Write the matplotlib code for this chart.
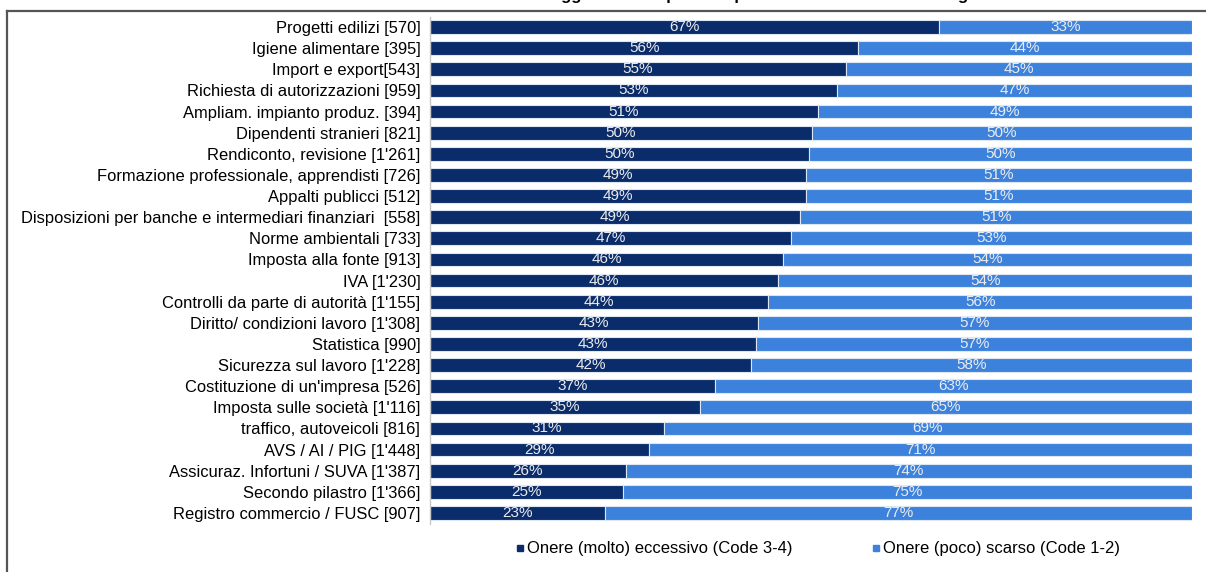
import matplotlib.pyplot as plt
from matplotlib.lines import Line2D

plt.rcParams['font.family'] = ['Liberation Sans', 'DejaVu Sans']

categories = [
    "Progetti edilizi [570]",
    "Igiene alimentare [395]",
    "Import e export[543]",
    "Richiesta di autorizzazioni [959]",
    "Ampliam. impianto produz. [394]",
    "Dipendenti stranieri [821]",
    "Rendiconto, revisione [1'261]",
    "Formazione professionale, apprendisti [726]",
    "Appalti publicci [512]",
    "Disposizioni per banche e intermediari finanziari  [558]",
    "Norme ambientali [733]",
    "Imposta alla fonte [913]",
    "IVA [1'230]",
    "Controlli da parte di autorità [1'155]",
    "Diritto/ condizioni lavoro [1'308]",
    "Statistica [990]",
    "Sicurezza sul lavoro [1'228]",
    "Costituzione di un'impresa [526]",
    "Imposta sulle società [1'116]",
    "traffico, autoveicoli [816]",
    "AVS / AI / PIG [1'448]",
    "Assicuraz. Infortuni / SUVA [1'387]",
    "Secondo pilastro [1'366]",
    "Registro commercio / FUSC [907]",
]

# quote (%) per categoria
eccessivo = [66.8, 56.2, 54.6, 53.4, 50.9, 50.1, 49.7, 49.3, 49.3, 48.6, 47.4, 46.3,
             45.7, 44.4, 43.0, 42.8, 42.1, 37.4, 35.4, 30.7, 28.7, 25.7, 25.3, 23.0]
scarso = [33.2, 43.8, 45.4, 46.6, 49.1, 49.9, 50.3, 50.7, 50.7, 51.4, 52.6, 53.7,
          54.3, 55.6, 57.0, 57.2, 57.9, 62.6, 64.6, 69.3, 71.3, 74.3, 74.7, 77.0]

legend_labels = ["Onere (molto) eccessivo (Code 3-4)", "Onere (poco) scarso (Code 1-2)"]
title = "Maggiore onere per le imprese nei diversi ambiti di regolamentazione"

dark = '#0b2c6a'
light = '#3c82dc'
narrow = ['Liberation Sans Narrow', 'Liberation Sans']

fig = plt.figure(figsize=(12.06, 5.72), dpi=100)
ax = fig.add_axes([430 / 1206, 1 - 523.5 / 572, 762 / 1206, 507 / 572])

y = list(range(len(categories)))
ax.barh(y, eccessivo, height=0.65, color=dark, edgecolor='#dde6f3', linewidth=0.8)
ax.barh(y, scarso, left=eccessivo, height=0.65, color=light, edgecolor='#dde6f3', linewidth=0.8)

for i in y:
    ax.text(eccessivo[i] / 2, i, f"{eccessivo[i]:.0f}%", ha='center', va='center',
            color='#ececec', fontsize=11, family=narrow)
    ax.text(eccessivo[i] + scarso[i] / 2, i, f"{scarso[i]:.0f}%", ha='center', va='center',
            color='#ececec', fontsize=11, family=narrow)

ax.set_xlim(0, 100)
ax.set_ylim(len(categories) - 0.5, -0.5)
ax.set_yticks(y)
ax.set_yticklabels(categories, fontsize=11.9)
ax.tick_params(axis='y', length=0, pad=7)
ax.set_xticks([])
for s in ['top', 'right', 'bottom']:
    ax.spines[s].set_visible(False)
ax.spines['left'].set_color('#c8c8c8')
ax.spines['left'].set_linewidth(1)

handles = [Line2D([], [], marker='s', color=c, linestyle='none', markersize=5)
           for c in (dark, light)]
fig.legend(handles, legend_labels, loc='center', bbox_to_anchor=(818 / 1206, 1 - 549 / 572),
           ncol=2, frameon=False, fontsize=12, handletextpad=0.15, columnspacing=4.8,
           handlelength=0.5)

# cornice e titolo
fig.add_artist(Line2D([7 / 1206, 7 / 1206], [1 - 10.5 / 572, -0.1], color='#555555', lw=1.6))
fig.add_artist(Line2D([7 / 1206, 1.1], [1 - 10.5 / 572, 1 - 10.5 / 572], color='#555555', lw=1.6))
fig.text(811 / 1206, 1.0, title, ha='center', va='baseline', fontsize=12, fontweight='bold')

fig.savefig('out.png', dpi=100)
